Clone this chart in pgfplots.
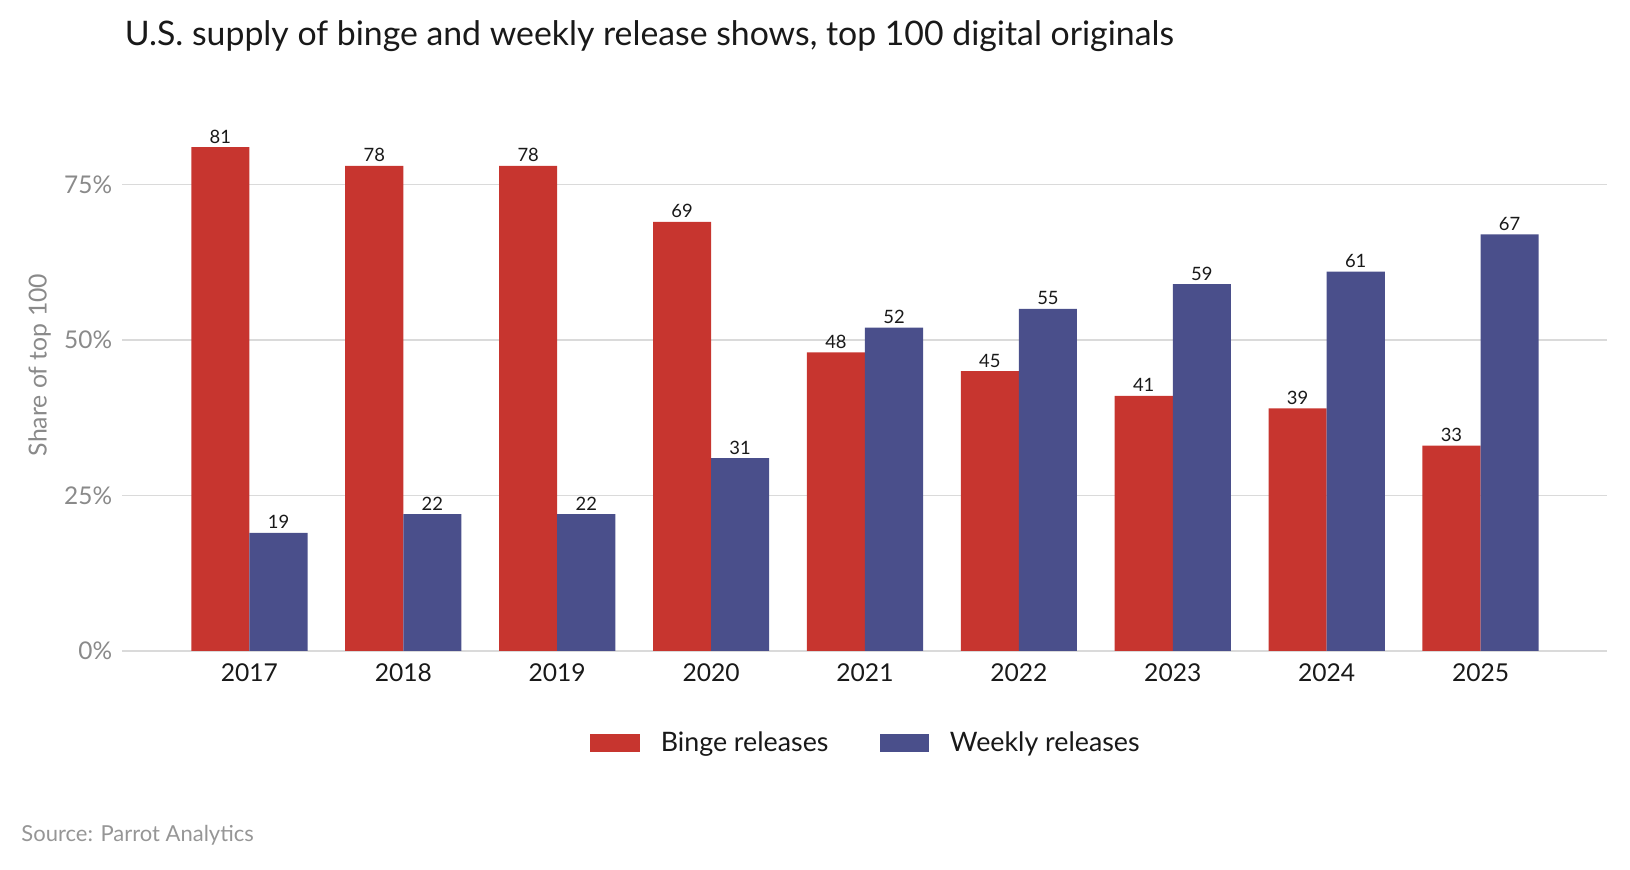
\documentclass[border=0pt]{standalone}
\usepackage{fontspec}
\setmainfont{Lato}
\usepackage{pgfplots}
\usepackage{pgfplotstable}
\pgfplotsset{compat=1.18}
\definecolor{binge}{RGB}{199,53,47}
\definecolor{weekly}{RGB}{74,79,139}
\definecolor{gridc}{RGB}{218,218,218}
\definecolor{tickc}{RGB}{138,138,138}
\definecolor{srcc}{RGB}{150,150,150}
\definecolor{txt}{RGB}{25,25,25}
\pgfplotstableread{
x binge weekly
0 81 19
1 78 22
2 78 22
3 69 31
4 48 52
5 45 55
6 41 59
7 39 61
8 33 67
}\data
\begin{document}
\begin{tikzpicture}
\useasboundingbox (-61.25pt,-109.5pt) rectangle (753.75pt,325.5pt);
\begin{axis}[
  at={(0pt,0pt)}, anchor=south west,
  scale only axis, width=742.5pt, height=279.9pt,
  xmin=-0.825, xmax=8.825, ymin=0, ymax=90,
  ybar=0pt, bar width=29.05pt,
  axis line style={draw=none},
  major tick length=0pt,
  ymajorgrids, grid style={draw=gridc, line width=0.75pt},
  xtick={0,...,8},
  xticklabels={2017,2018,2019,2020,2021,2022,2023,2024,2025},
  ytick={0,25,50,75},
  yticklabel={\pgfmathprintnumber{\tick}\%},
  /pgf/number format/assume math mode=true,
  xticklabel style={anchor=base, inner sep=0pt, yshift=-15.25pt, font=\fontsize{12.3}{15}\selectfont, text=txt},
  yticklabel style={anchor=east, inner sep=0pt, xshift=-5pt, font=\fontsize{12.2}{15}\selectfont, text=tickc},
  nodes near coords,
  nodes near coords style={anchor=base, inner sep=0pt, yshift=2pt, font=\fontsize{9.2}{10}\selectfont, text=txt},
  clip=false,
  legend columns=2,
  legend image code/.code={\fill[#1] (0pt,-4.6pt) rectangle (24.75pt,4.6pt);},
  legend style={at={(0.5,-0.1645)}, anchor=center, draw=none, fill=none,
    font=\fontsize{13.4}{15}\selectfont, text=txt,
    nodes={inner sep=0pt},
    /tikz/every odd column/.append style={column sep=10.5pt},
    /tikz/every even column/.append style={column sep=25.5pt}},
]
\addplot[fill=binge, draw=none] table[x=x, y=binge] {\data};
\addplot[fill=weekly, draw=none] table[x=x, y=weekly] {\data};
\legend{Binge releases, Weekly releases}
\end{axis}
\node[anchor=base west, inner sep=0pt, font=\fontsize{16.9}{20}\selectfont, text=txt] at (1pt,302.5pt) {U.S. supply of binge and weekly release shows, top 100 digital originals};
\node[rotate=90, anchor=center, inner sep=0pt, font=\fontsize{12.4}{14}\selectfont, text=tickc] at (-41.5pt,143pt) {Share of top 100};
\node[anchor=base west, inner sep=0pt, font=\fontsize{11}{13}\selectfont, text=srcc] at (-50.75pt,-95.5pt) {Source: Parrot Analytics};
\end{tikzpicture}
\end{document}
